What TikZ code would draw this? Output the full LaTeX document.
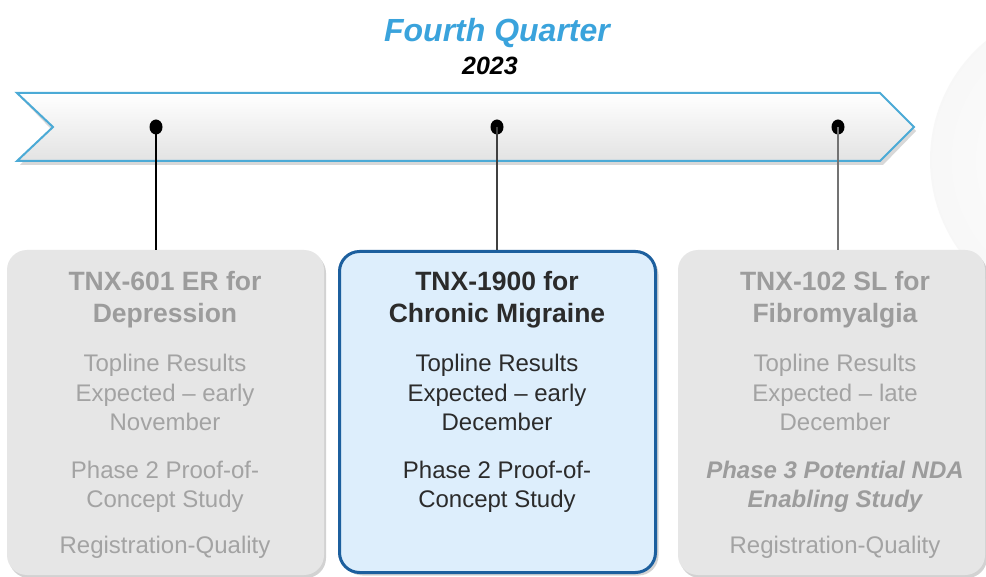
\documentclass[tikz,border=0pt]{standalone}
\usepackage{fontspec}
\setmainfont{Liberation Sans}
\usetikzlibrary{shadows,shapes.geometric}
\definecolor{qblue}{HTML}{3AA3DC}
\definecolor{bandline}{HTML}{4BAAD6}
\definecolor{boxgray}{HTML}{E6E6E6}
\definecolor{txtgray}{HTML}{A3A3A3}
\definecolor{ttlgray}{HTML}{9C9C9C}
\definecolor{midfill}{HTML}{DDEEFC}
\definecolor{midline}{HTML}{1C5F9E}
\definecolor{midtxt}{HTML}{2B2B2B}
\tikzset{
  ln/.style={anchor=base, inner sep=0pt},
  ttl/.style={ln, font=\fontsize{26.5}{30}\selectfont\bfseries},
  bdy/.style={ln, font=\fontsize{24}{28}\selectfont},
  bdi/.style={ln, font=\fontsize{24}{28}\selectfont\bfseries\itshape},
  graybox/.style={draw=none, fill=boxgray, rounded corners=20pt, inner sep=0pt,
    drop shadow={shadow xshift=2pt, shadow yshift=-3pt, opacity=0.35, fill=gray}},
  midbox/.style={draw=midline, line width=3pt, fill=midfill, rounded corners=20pt, inner sep=0pt,
    drop shadow={shadow xshift=3pt, shadow yshift=-3pt, opacity=0.35, fill=gray}},
  dot/.style={ellipse, fill=black, minimum width=13pt, minimum height=15pt, inner sep=0pt},
}
\begin{document}
\begin{tikzpicture}[x=1pt,y=-1pt]
\useasboundingbox (0,0) rectangle (986,577);
\fill[white] (0,0) rectangle (986,577);
% faint background globe
\begin{scope}
\clip (0,0) rectangle (986,577);
\shade[inner color=white, outer color=gray!25, opacity=0.22] (1085,160) circle (155);
\end{scope}
% title
\node[font=\fontsize{32}{36}\selectfont\bfseries\itshape, text=qblue, anchor=base] (title) at (497,42) {Fourth Quarter};
\node[font=\fontsize{25}{30}\selectfont\bfseries\itshape, text=black, anchor=base] (year) at (490,75) {2023};
% band
\fill[gray!60, opacity=0.5] (20,97) -- (883,97) -- (916,131) -- (883,165) -- (20,165) -- (53,131) -- cycle;
\shade[top color=white, bottom color=gray!22, draw=bandline, line width=2pt]
  (17,93) -- (880,93) -- (914,127) -- (880,161) -- (17,161) -- (53,127) -- cycle;
% boxes
\node[graybox, minimum width=317pt, minimum height=325pt] (b1) at (165.5,412.5) {};
\node[midbox, minimum width=316pt, minimum height=321pt] (b2) at (497.5,412) {};
\node[graybox, minimum width=307pt, minimum height=325pt] (b3) at (831.5,412.5) {};
% dots and stems
\node[dot] (d1) at (156,127) {};
\node[dot] (d2) at (497,127) {};
\node[dot] (d3) at (838,127) {};
\draw[black, line width=2.2pt] (d1.center) -- (d1.center |- b1.north);
\draw[black!75, line width=1.4pt] (d2.center) -- (d2.center |- b2.north);
\draw[black!55, line width=1.4pt] (d3.center) -- (d3.center |- b3.north);
% box 1 text
\node[ttl, text=ttlgray] (t11) at (165,291) {TNX-601 ER for};
\node[ttl, text=ttlgray] (t12) at (165,323) {Depression};
\node[bdy, text=txtgray] (t13) at (165,372) {Topline Results};
\node[bdy, text=txtgray] (t14) at (165,402) {Expected – early};
\node[bdy, text=txtgray] (t15) at (165,431) {November};
\node[bdy, text=txtgray] (t16) at (165,478) {Phase 2 Proof-of-};
\node[bdy, text=txtgray] (t17) at (165,507) {Concept Study};
\node[bdy, text=txtgray] (t18) at (165,553) {Registration-Quality};
% box 2 text
\node[ttl, text=midtxt] (t21) at (497,291) {TNX-1900 for};
\node[ttl, text=midtxt] (t22) at (497,323) {Chronic Migraine};
\node[bdy, text=midtxt] (t23) at (497,372) {Topline Results};
\node[bdy, text=midtxt] (t24) at (497,402) {Expected – early};
\node[bdy, text=midtxt] (t25) at (497,431) {December};
\node[bdy, text=midtxt] (t26) at (497,478) {Phase 2 Proof-of-};
\node[bdy, text=midtxt] (t27) at (497,507) {Concept Study};
% box 3 text
\node[ttl, text=ttlgray] (t31) at (835,291) {TNX-102 SL for};
\node[ttl, text=ttlgray] (t32) at (835,323) {Fibromyalgia};
\node[bdy, text=txtgray] (t33) at (835,372) {Topline Results};
\node[bdy, text=txtgray] (t34) at (835,402) {Expected – late};
\node[bdy, text=txtgray] (t35) at (835,431) {December};
\node[bdi, text=ttlgray] (t36) at (835,478) {Phase 3 Potential NDA};
\node[bdi, text=ttlgray] (t37) at (835,507) {Enabling Study};
\node[bdy, text=txtgray] (t38) at (835,553) {Registration-Quality};
\end{tikzpicture}
\end{document}
